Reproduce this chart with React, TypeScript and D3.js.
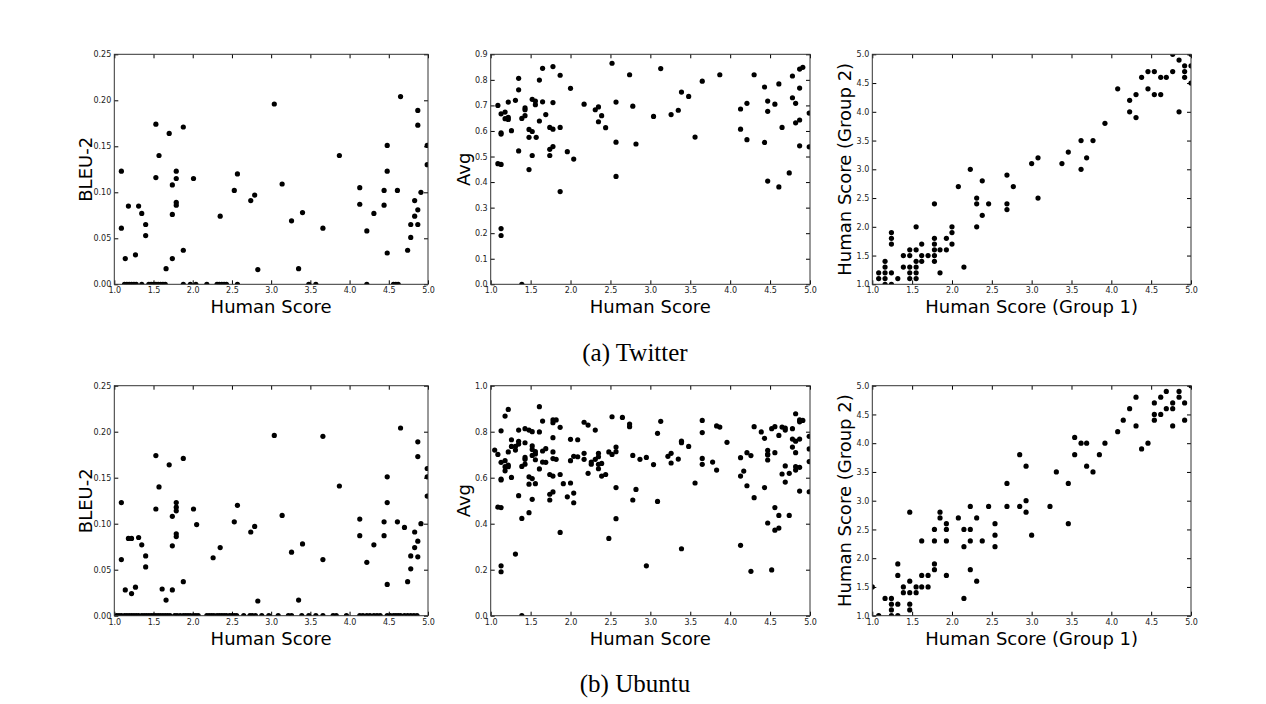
import * as d3 from "d3";
import { useEffect, useRef } from "react";

type Pt = [number, number];

// x = human score, y = metric
const twitterBleu: Pt[] = [
  [1.09, 0.123], [1.09, 0.061], [1.14, 0.028], [1.18, 0.085], [1.27, 0.032], [1.31, 0.085],
  [1.35, 0.077], [1.40, 0.065], [1.40, 0.053], [1.53, 0.174], [1.53, 0.116], [1.57, 0.140],
  [1.66, 0.017], [1.70, 0.164], [1.74, 0.108], [1.74, 0.076], [1.74, 0.028], [1.79, 0.123],
  [1.79, 0.115], [1.79, 0.089], [1.79, 0.086], [1.88, 0.171], [1.88, 0.037], [2.01, 0.115],
  [2.35, 0.074], [2.53, 0.102], [2.57, 0.120], [2.74, 0.091], [2.79, 0.097], [2.83, 0.016],
  [3.04, 0.196], [3.14, 0.109], [3.26, 0.069], [3.40, 0.078], [3.35, 0.017], [3.66, 0.061],
  [3.87, 0.140], [4.13, 0.105], [4.13, 0.087], [4.22, 0.058], [4.31, 0.077], [4.44, 0.102],
  [4.44, 0.086], [4.48, 0.151], [4.48, 0.123], [4.48, 0.034], [4.61, 0.102], [4.65, 0.204],
  [4.74, 0.037], [4.78, 0.065], [4.78, 0.051], [4.83, 0.091], [4.83, 0.074], [4.87, 0.189],
  [4.87, 0.173], [4.87, 0.081], [4.87, 0.065], [4.91, 0.100], [4.99, 0.151], [4.99, 0.130],
];
const twitterBleuZeros = [
  1.13, 1.16, 1.19, 1.22, 1.25, 1.28, 1.35, 1.44, 1.47, 1.50, 1.53, 1.56, 1.59, 1.62, 1.65,
  1.88, 1.97, 2.04, 2.18, 2.31, 2.34, 2.37, 2.40, 2.43, 2.57, 3.48, 3.57, 4.22, 4.56, 4.59, 4.62,
];

const twitterAvg: Pt[] = [
  [1.09, 0.700], [1.09, 0.472], [1.13, 0.469], [1.13, 0.667], [1.13, 0.593], [1.13, 0.588],
  [1.13, 0.218], [1.13, 0.191], [1.18, 0.674], [1.18, 0.648], [1.22, 0.713], [1.22, 0.653],
  [1.22, 0.645], [1.26, 0.601], [1.31, 0.720], [1.35, 0.806], [1.35, 0.761], [1.35, 0.522],
  [1.39, 0.649], [1.39, 0.0], [1.43, 0.690], [1.43, 0.683], [1.43, 0.660], [1.48, 0.606],
  [1.48, 0.575], [1.48, 0.449], [1.52, 0.724], [1.52, 0.598], [1.57, 0.575], [1.52, 0.504],
  [1.56, 0.717], [1.56, 0.703], [1.61, 0.799], [1.61, 0.639], [1.65, 0.845], [1.65, 0.714],
  [1.69, 0.664], [1.74, 0.614], [1.74, 0.528], [1.74, 0.504], [1.78, 0.852], [1.78, 0.711],
  [1.78, 0.607], [1.78, 0.539], [1.87, 0.818], [1.87, 0.614], [1.87, 0.363], [1.96, 0.519],
  [2.00, 0.767], [2.04, 0.490], [2.17, 0.705], [2.31, 0.683], [2.35, 0.694], [2.35, 0.636],
  [2.39, 0.660], [2.44, 0.613], [2.52, 0.865], [2.57, 0.713], [2.57, 0.556], [2.57, 0.422],
  [2.74, 0.820], [2.78, 0.697], [2.82, 0.549], [3.04, 0.657], [3.13, 0.844], [3.26, 0.664],
  [3.35, 0.681], [3.39, 0.752], [3.48, 0.735], [3.56, 0.576], [3.65, 0.795], [3.87, 0.820],
  [4.13, 0.686], [4.13, 0.607], [4.21, 0.708], [4.21, 0.566], [4.30, 0.820], [4.43, 0.772],
  [4.43, 0.555], [4.47, 0.717], [4.47, 0.677], [4.47, 0.404], [4.56, 0.705], [4.61, 0.784],
  [4.61, 0.381], [4.65, 0.614], [4.74, 0.436], [4.78, 0.815], [4.78, 0.730], [4.82, 0.708],
  [4.82, 0.632], [4.87, 0.842], [4.87, 0.768], [4.87, 0.643], [4.87, 0.542], [4.91, 0.849],
  [4.99, 0.670], [4.99, 0.538],
];

const twitterGroups: Pt[] = [
  [1.08, 1.2], [1.08, 1.1], [1.16, 1.4], [1.16, 1.3], [1.16, 1.2], [1.16, 1.1], [1.16, 1.0],
  [1.24, 1.9], [1.24, 1.8], [1.24, 1.7], [1.24, 1.2], [1.24, 1.0], [1.32, 1.1], [1.39, 1.5],
  [1.39, 1.3], [1.47, 1.6], [1.47, 1.5], [1.47, 1.3], [1.47, 1.2], [1.47, 1.1], [1.55, 2.0],
  [1.55, 1.6], [1.55, 1.4], [1.55, 1.3], [1.55, 1.2], [1.55, 1.1], [1.62, 1.7], [1.62, 1.5],
  [1.62, 1.4], [1.70, 1.5], [1.78, 2.4], [1.78, 1.8], [1.78, 1.7], [1.78, 1.6], [1.78, 1.5],
  [1.78, 1.4], [1.85, 1.6], [1.85, 1.2], [1.93, 1.8], [1.93, 1.6], [2.00, 2.0], [2.00, 1.9],
  [2.00, 1.7], [2.08, 2.7], [2.15, 1.3], [2.23, 3.0], [2.31, 2.5], [2.31, 2.4], [2.31, 2.0],
  [2.38, 2.8], [2.38, 2.2], [2.46, 2.4], [2.69, 2.9], [2.69, 2.4], [2.69, 2.3], [2.77, 2.7],
  [3.00, 3.1], [3.08, 3.2], [3.08, 2.5], [3.38, 3.1], [3.46, 3.3], [3.62, 3.5], [3.62, 3.0],
  [3.69, 3.2], [3.77, 3.5], [3.92, 3.8], [4.08, 4.4], [4.23, 4.2], [4.23, 4.0], [4.31, 4.3],
  [4.31, 3.9], [4.38, 4.6], [4.46, 4.7], [4.46, 4.4], [4.54, 4.7], [4.54, 4.3], [4.62, 4.6],
  [4.62, 4.3], [4.69, 4.6], [4.77, 5.0], [4.77, 4.7], [4.85, 4.9], [4.85, 4.0], [4.92, 4.8],
  [4.92, 4.7], [4.92, 4.6], [5.00, 5.0], [5.00, 4.8], [5.00, 4.5],
];

const ubuntuBleu: Pt[] = [
  [1.09, 0.123], [1.09, 0.061], [1.14, 0.028], [1.18, 0.084], [1.22, 0.084], [1.22, 0.024],
  [1.27, 0.031], [1.31, 0.085], [1.35, 0.077], [1.40, 0.065], [1.40, 0.053], [1.53, 0.174],
  [1.53, 0.116], [1.57, 0.140], [1.61, 0.029], [1.66, 0.017], [1.70, 0.164], [1.74, 0.108],
  [1.74, 0.076], [1.74, 0.028], [1.79, 0.123], [1.79, 0.118], [1.79, 0.114], [1.79, 0.089],
  [1.79, 0.086], [1.88, 0.171], [1.88, 0.037], [2.01, 0.116], [2.05, 0.099], [2.26, 0.063],
  [2.35, 0.074], [2.53, 0.102], [2.57, 0.120], [2.74, 0.091], [2.79, 0.097], [2.83, 0.016],
  [3.04, 0.196], [3.14, 0.109], [3.26, 0.069], [3.40, 0.078], [3.35, 0.017], [3.66, 0.195],
  [3.66, 0.061], [3.87, 0.141], [4.13, 0.105], [4.13, 0.087], [4.22, 0.058], [4.31, 0.077],
  [4.44, 0.102], [4.44, 0.087], [4.48, 0.151], [4.48, 0.123], [4.48, 0.034], [4.61, 0.102],
  [4.65, 0.204], [4.70, 0.096], [4.74, 0.037], [4.78, 0.065], [4.78, 0.051], [4.83, 0.091],
  [4.83, 0.074], [4.87, 0.189], [4.87, 0.173], [4.87, 0.081], [4.87, 0.064], [4.91, 0.100],
  [4.99, 0.160], [4.99, 0.151], [4.99, 0.130],
];
const ubuntuBleuZeros = [
  1.03, 1.06, 1.09, 1.13, 1.16, 1.19, 1.22, 1.25, 1.28, 1.31, 1.35, 1.38, 1.41, 1.44, 1.47,
  1.50, 1.53, 1.56, 1.59, 1.62, 1.65, 1.68, 1.71, 1.77, 1.80, 1.84, 1.88, 1.91, 1.94, 1.97,
  2.01, 2.04, 2.07, 2.18, 2.21, 2.24, 2.27, 2.31, 2.34, 2.37, 2.40, 2.43, 2.47, 2.50, 2.53,
  2.56, 2.65, 2.73, 2.76, 2.80, 2.88, 2.97, 3.09, 3.22, 3.26, 3.39, 3.48, 3.57, 3.66, 3.79,
  3.83, 3.96, 4.13, 4.17, 4.22, 4.26, 4.31, 4.35, 4.39, 4.48, 4.52, 4.56, 4.59, 4.62, 4.65,
  4.70, 4.74, 4.78, 4.82, 4.86,
];

const ubuntuAvg: Pt[] = [
  [1.05, 0.720], [1.09, 0.701], [1.09, 0.472], [1.13, 0.470], [1.13, 0.804], [1.13, 0.667],
  [1.13, 0.594], [1.13, 0.590], [1.13, 0.217], [1.13, 0.191], [1.18, 0.868], [1.18, 0.674],
  [1.18, 0.648], [1.18, 0.630], [1.22, 0.897], [1.22, 0.712], [1.22, 0.648], [1.22, 0.655],
  [1.26, 0.765], [1.26, 0.736], [1.26, 0.601], [1.31, 0.736], [1.31, 0.720], [1.31, 0.268],
  [1.35, 0.807], [1.35, 0.758], [1.35, 0.746], [1.35, 0.522], [1.39, 0.649], [1.39, 0.423],
  [1.39, 0.0], [1.43, 0.813], [1.43, 0.752], [1.43, 0.688], [1.43, 0.680], [1.43, 0.659],
  [1.48, 0.807], [1.48, 0.604], [1.48, 0.572], [1.48, 0.448], [1.52, 0.800], [1.52, 0.738],
  [1.52, 0.723], [1.52, 0.697], [1.52, 0.596], [1.52, 0.506], [1.56, 0.713], [1.56, 0.703],
  [1.56, 0.678], [1.56, 0.574], [1.61, 0.909], [1.61, 0.799], [1.61, 0.638], [1.65, 0.846],
  [1.65, 0.716], [1.65, 0.668], [1.69, 0.726], [1.69, 0.667], [1.74, 0.614], [1.74, 0.528],
  [1.74, 0.503], [1.78, 0.851], [1.78, 0.839], [1.78, 0.774], [1.78, 0.712], [1.78, 0.683],
  [1.78, 0.607], [1.78, 0.538], [1.82, 0.851], [1.82, 0.680], [1.87, 0.819], [1.87, 0.614],
  [1.87, 0.362], [1.91, 0.574], [1.96, 0.517], [2.00, 0.767], [2.00, 0.674], [2.00, 0.577],
  [2.04, 0.693], [2.04, 0.533], [2.04, 0.491], [2.09, 0.765], [2.09, 0.691], [2.17, 0.841],
  [2.17, 0.706], [2.17, 0.680], [2.22, 0.829], [2.22, 0.619], [2.26, 0.668], [2.26, 0.659],
  [2.31, 0.807], [2.31, 0.680], [2.35, 0.706], [2.35, 0.691], [2.35, 0.658], [2.35, 0.639],
  [2.39, 0.662], [2.39, 0.607], [2.44, 0.614], [2.48, 0.712], [2.48, 0.336], [2.52, 0.865],
  [2.52, 0.701], [2.57, 0.733], [2.57, 0.713], [2.57, 0.557], [2.57, 0.422], [2.65, 0.862],
  [2.74, 0.833], [2.74, 0.822], [2.78, 0.697], [2.78, 0.503], [2.82, 0.549], [2.87, 0.680],
  [2.95, 0.688], [2.95, 0.217], [3.04, 0.657], [3.09, 0.793], [3.09, 0.497], [3.13, 0.845],
  [3.22, 0.693], [3.26, 0.706], [3.26, 0.664], [3.35, 0.681], [3.39, 0.759], [3.39, 0.752],
  [3.39, 0.291], [3.48, 0.736], [3.56, 0.577], [3.65, 0.849], [3.65, 0.796], [3.65, 0.684],
  [3.65, 0.658], [3.78, 0.668], [3.83, 0.825], [3.83, 0.633], [3.87, 0.820], [3.96, 0.754],
  [4.13, 0.687], [4.13, 0.607], [4.13, 0.306], [4.17, 0.629], [4.21, 0.709], [4.21, 0.565],
  [4.26, 0.696], [4.26, 0.193], [4.30, 0.822], [4.30, 0.513], [4.39, 0.799], [4.43, 0.771],
  [4.43, 0.557], [4.47, 0.719], [4.47, 0.703], [4.47, 0.699], [4.47, 0.677], [4.47, 0.403],
  [4.52, 0.813], [4.52, 0.199], [4.56, 0.822], [4.56, 0.709], [4.56, 0.470], [4.56, 0.372],
  [4.61, 0.784], [4.61, 0.436], [4.61, 0.381], [4.65, 0.820], [4.65, 0.616], [4.69, 0.816],
  [4.69, 0.807], [4.69, 0.651], [4.69, 0.581], [4.74, 0.619], [4.74, 0.436], [4.78, 0.813],
  [4.78, 0.768], [4.78, 0.733], [4.82, 0.878], [4.82, 0.759], [4.82, 0.709], [4.82, 0.648],
  [4.82, 0.633], [4.87, 0.851], [4.87, 0.843], [4.87, 0.768], [4.87, 0.645], [4.87, 0.542],
  [4.91, 0.849], [4.99, 0.780], [4.99, 0.725], [4.99, 0.670], [4.99, 0.539],
];

const ubuntuGroups: Pt[] = [
  [1.00, 1.5], [1.08, 1.0], [1.16, 1.3], [1.24, 1.3], [1.24, 1.2], [1.24, 1.1], [1.24, 1.0],
  [1.32, 1.9], [1.32, 1.7], [1.32, 1.2], [1.32, 1.0], [1.39, 1.5], [1.39, 1.4], [1.47, 2.8],
  [1.47, 1.6], [1.47, 1.4], [1.47, 1.2], [1.47, 1.1], [1.55, 1.5], [1.55, 1.4], [1.62, 2.3],
  [1.62, 1.7], [1.62, 1.5], [1.70, 1.7], [1.70, 1.5], [1.78, 2.5], [1.78, 2.3], [1.78, 1.9],
  [1.78, 1.8], [1.85, 2.8], [1.85, 2.7], [1.93, 2.6], [1.93, 2.5], [1.93, 2.3], [1.93, 1.7],
  [2.08, 2.7], [2.15, 2.5], [2.15, 2.2], [2.15, 1.3], [2.23, 2.9], [2.23, 2.5], [2.23, 2.3],
  [2.23, 1.8], [2.31, 2.7], [2.31, 1.6], [2.38, 2.3], [2.46, 2.9], [2.54, 2.6], [2.54, 2.4],
  [2.54, 2.2], [2.69, 3.3], [2.69, 2.9], [2.85, 3.8], [2.85, 2.9], [2.93, 3.6], [2.93, 3.0],
  [2.93, 2.8], [3.00, 2.4], [3.23, 2.9], [3.31, 3.5], [3.46, 3.3], [3.46, 2.6], [3.54, 4.1],
  [3.54, 3.8], [3.62, 4.0], [3.69, 4.0], [3.69, 3.6], [3.77, 3.5], [3.85, 3.8], [3.92, 4.0],
  [4.08, 4.2], [4.15, 4.4], [4.23, 4.6], [4.31, 4.8], [4.31, 4.3], [4.38, 3.9], [4.46, 4.0],
  [4.54, 4.7], [4.54, 4.5], [4.54, 4.4], [4.62, 4.8], [4.62, 4.5], [4.69, 4.9], [4.69, 4.6],
  [4.77, 4.7], [4.77, 4.6], [4.77, 4.3], [4.85, 4.9], [4.85, 4.8], [4.92, 4.7], [4.92, 4.4],
  [5.00, 5.0],
];

const scoreTicks = [1.0, 1.5, 2.0, 2.5, 3.0, 3.5, 4.0, 4.5, 5.0];
const bleuTicks = [0, 0.05, 0.1, 0.15, 0.2, 0.25];
const twitterAvgTicks = [0, 0.1, 0.2, 0.3, 0.4, 0.5, 0.6, 0.7, 0.8, 0.9];
const ubuntuAvgTicks = [0, 0.2, 0.4, 0.6, 0.8, 1.0];

const captions = ["(a) Twitter", "(b) Ubuntu"];

type Panel = {
  data: Pt[];
  left: number;
  top: number;
  width: number;
  height: number;
  yDomain: [number, number];
  yTicks: number[];
  yFmt: string;
  xLabel: string;
  yLabel: string;
  yLabelGap: number;
};

const rowTop = [54.3, 385.7];
const rowH = 230;
const cols = [
  { left: 114.3, width: 313.7, gap: 22.5 },
  { left: 490.7, width: 319.3, gap: 21 },
  { left: 872.3, width: 318.7, gap: 21 },
];

const panels: Panel[] = [
  { data: [...twitterBleu, ...twitterBleuZeros.map((x) => [x, 0] as Pt)], yDomain: [0, 0.25], yTicks: bleuTicks, yFmt: ".2f", xLabel: "Human Score", yLabel: "BLEU-2", row: 0, col: 0 },
  { data: twitterAvg, yDomain: [0, 0.9], yTicks: twitterAvgTicks, yFmt: ".1f", xLabel: "Human Score", yLabel: "Avg", row: 0, col: 1 },
  { data: twitterGroups, yDomain: [1, 5], yTicks: scoreTicks, yFmt: ".1f", xLabel: "Human Score (Group 1)", yLabel: "Human Score (Group 2)", row: 0, col: 2 },
  { data: [...ubuntuBleu, ...ubuntuBleuZeros.map((x) => [x, 0] as Pt)], yDomain: [0, 0.25], yTicks: bleuTicks, yFmt: ".2f", xLabel: "Human Score", yLabel: "BLEU-2", row: 1, col: 0 },
  { data: ubuntuAvg, yDomain: [0, 1], yTicks: ubuntuAvgTicks, yFmt: ".1f", xLabel: "Human Score", yLabel: "Avg", row: 1, col: 1 },
  { data: ubuntuGroups, yDomain: [1, 5], yTicks: scoreTicks, yFmt: ".1f", xLabel: "Human Score (Group 1)", yLabel: "Human Score (Group 2)", row: 1, col: 2 },
].map((p) => ({
  ...p,
  left: cols[p.col].left,
  width: cols[p.col].width,
  yLabelGap: cols[p.col].gap,
  top: rowTop[p.row],
  height: rowH,
})) as Panel[];

const W = 1266;
const H = 704;
const FONT = "DejaVu Sans";

export default function App() {
  const ref = useRef<SVGSVGElement | null>(null);

  useEffect(() => {
    if (!ref.current) return;
    const svg = d3.select(ref.current);
    svg.selectAll("*").remove();

    panels.forEach((p, i) => {
      const x = d3.scaleLinear().domain([1, 5]).range([p.left, p.left + p.width]);
      const y = d3.scaleLinear().domain(p.yDomain).range([p.top + p.height, p.top]);
      const g = svg.append("g");

      g.append("clipPath")
        .attr("id", `clip${i}`)
        .append("rect")
        .attr("x", p.left)
        .attr("y", p.top)
        .attr("width", p.width)
        .attr("height", p.height);

      // points
      g.append("g")
        .attr("clip-path", `url(#clip${i})`)
        .selectAll("circle")
        .data(p.data)
        .join("circle")
        .attr("cx", (d) => x(d[0]))
        .attr("cy", (d) => y(d[1]))
        .attr("r", 2.6)
        .attr("fill", "#000");

      const styleAxis = (sel: d3.Selection<SVGGElement, unknown, null, undefined>) => {
        sel.select(".domain").remove();
        sel.attr("font-family", FONT).attr("font-size", 8);
        sel.selectAll("line").attr("stroke", "#000");
        sel.selectAll("text").attr("fill", "#222");
      };

      // axes, ticks pointing inward on all four sides
      g.append("g")
        .attr("transform", `translate(0,${p.top + p.height})`)
        .call(d3.axisBottom(x).tickValues(scoreTicks).tickFormat(d3.format(".1f")).tickSizeInner(-4).tickSizeOuter(0).tickPadding(3.5))
        .call(styleAxis);
      g.append("g")
        .attr("transform", `translate(0,${p.top})`)
        .call(d3.axisTop(x).tickValues(scoreTicks).tickFormat(() => "").tickSizeInner(-4).tickSizeOuter(0))
        .call(styleAxis);
      g.append("g")
        .attr("transform", `translate(${p.left},0)`)
        .call(d3.axisLeft(y).tickValues(p.yTicks).tickFormat(d3.format(p.yFmt)).tickSizeInner(-4).tickSizeOuter(0).tickPadding(3))
        .call(styleAxis);
      g.append("g")
        .attr("transform", `translate(${p.left + p.width},0)`)
        .call(d3.axisRight(y).tickValues(p.yTicks).tickFormat(() => "").tickSizeInner(-4).tickSizeOuter(0))
        .call(styleAxis);

      // frame
      g.append("rect")
        .attr("x", p.left)
        .attr("y", p.top)
        .attr("width", p.width)
        .attr("height", p.height)
        .attr("fill", "none")
        .attr("stroke", "#333")
        .attr("stroke-width", 1);

      // labels
      g.append("text")
        .attr("x", p.left + p.width / 2)
        .attr("y", p.top + p.height + 29)
        .attr("text-anchor", "middle")
        .attr("font-family", FONT)
        .attr("font-size", 18)
        .text(p.xLabel);
      g.append("text")
        .attr("transform", `translate(${p.left - p.yLabelGap},${p.top + p.height / 2}) rotate(-90)`)
        .attr("text-anchor", "middle")
        .attr("font-family", FONT)
        .attr("font-size", 18)
        .text(p.yLabel);
    });

    svg.selectAll("text.caption")
      .data(captions)
      .join("text")
      .attr("class", "caption")
      .attr("x", 635)
      .attr("y", (_, i) => (i === 0 ? 361 : 692))
      .attr("text-anchor", "middle")
      .attr("font-family", "Liberation Serif")
      .attr("font-size", 25)
      .text((d) => d);
  }, []);

  return (
    <svg
      ref={ref}
      width={W}
      height={H}
      style={{ position: "absolute", left: 0, top: 0, background: "#fff" }}
    ></svg>
  );
}
